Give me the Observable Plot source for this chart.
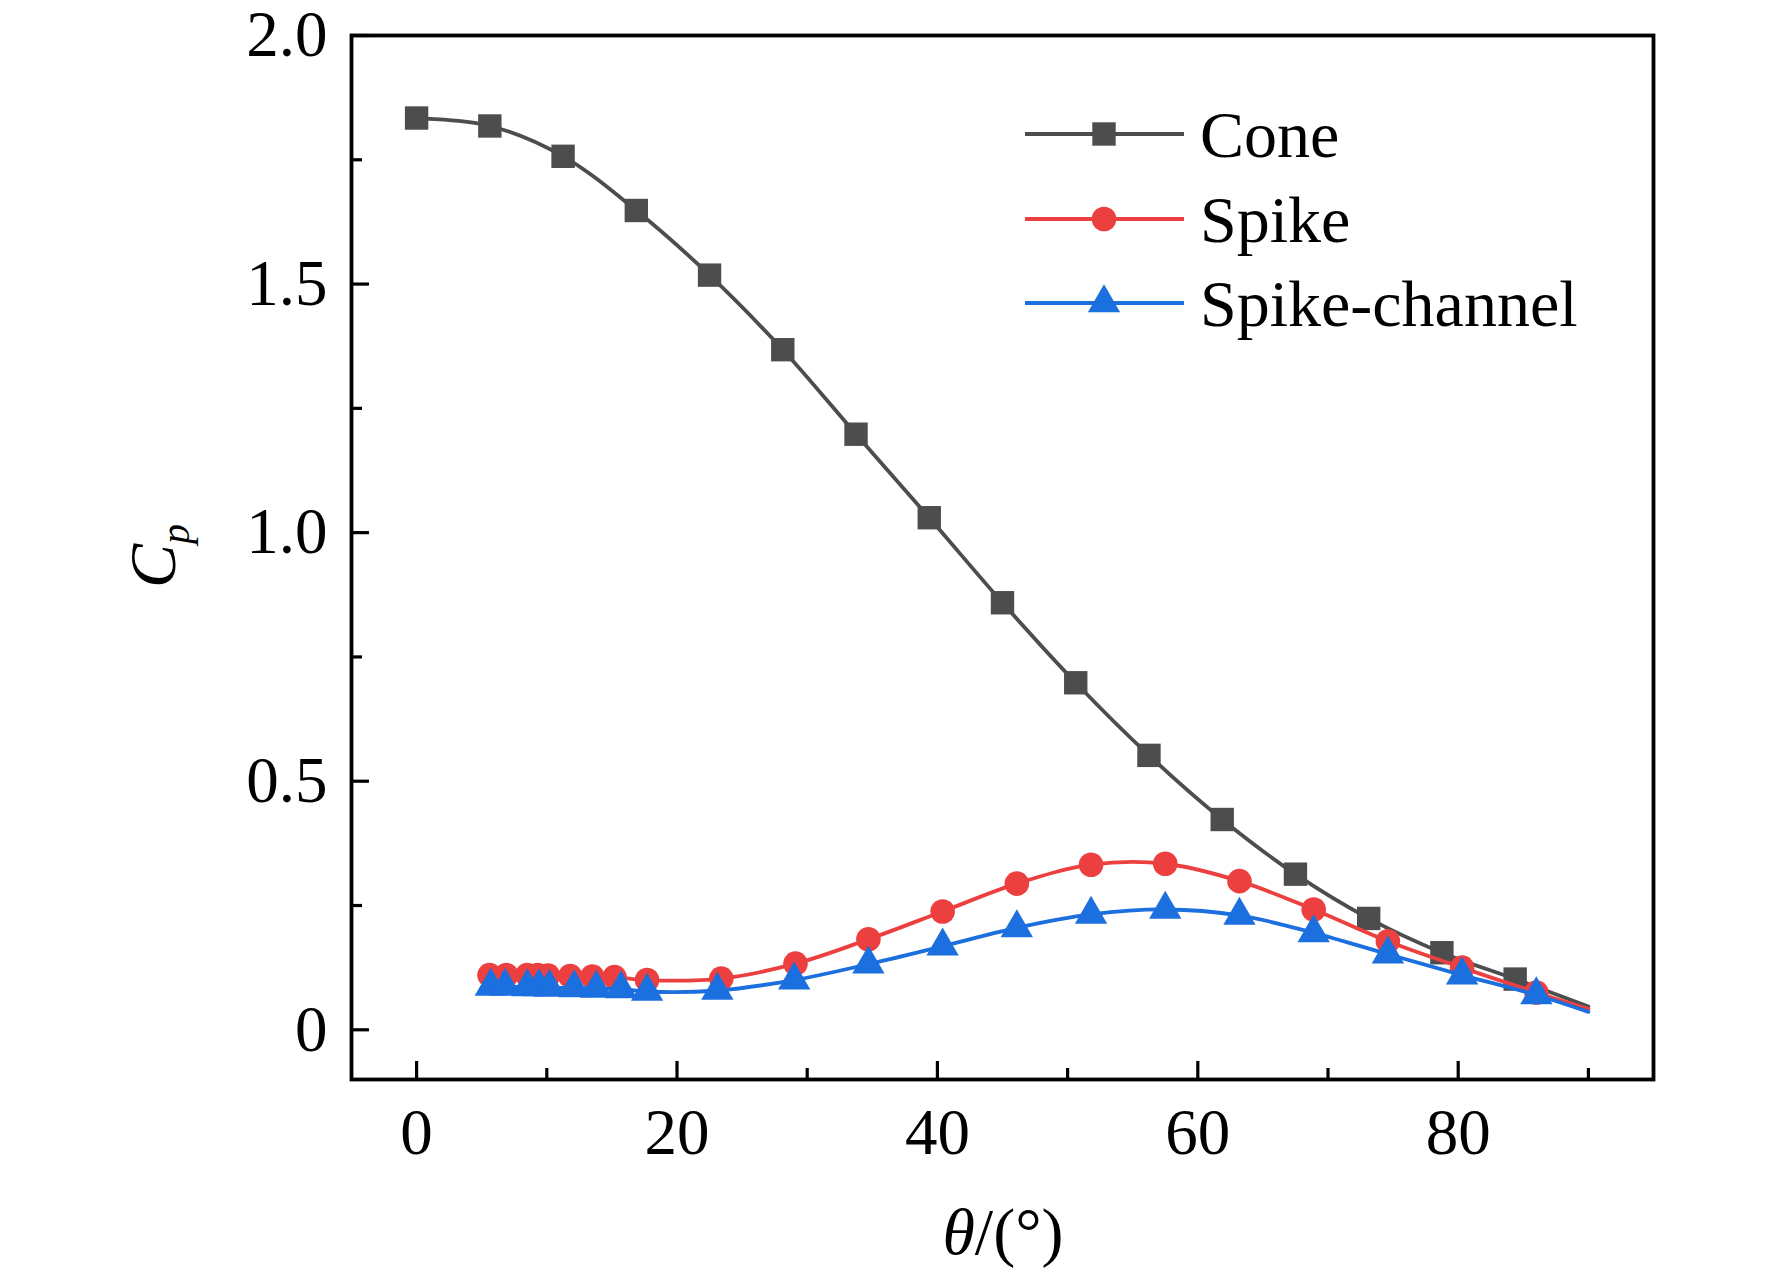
<!DOCTYPE html>
<html>
<head>
<meta charset="utf-8">
<script src="https://cdn.jsdelivr.net/npm/d3@7"></script>
<script src="https://cdn.jsdelivr.net/npm/@observablehq/plot@0.6"></script>
<style>
  html, body { margin: 0; padding: 0; background: #fff; }
  #chart svg { display: block; }
</style>
</head>
<body>
<div id="chart"></div>
<script>
// ---- Data ----
const seriesNames = ["Cone", "Spike", "Spike-channel"];

const coneTheta = [0, 5.625, 11.25, 16.875, 22.5, 28.125, 33.75, 39.375, 45, 50.625, 56.25, 61.875, 67.5, 73.125, 78.75, 84.375, 90];
const coneCp    = [1.834, 1.818, 1.757, 1.648, 1.518, 1.368, 1.198, 1.030, 0.859, 0.698, 0.552, 0.423, 0.313, 0.224, 0.155, 0.102, 0.047];

const spikeTheta = [5.6, 6.9, 8.5, 9.3, 10.1, 11.8, 13.5, 15.2, 17.7, 23.4, 29.1, 34.7, 40.4, 46.1, 51.8, 57.5, 63.2, 68.9, 74.6, 80.3, 86.0, 90];
const spikeCp    = [0.110, 0.110, 0.110, 0.110, 0.109, 0.108, 0.107, 0.106, 0.100, 0.103, 0.133, 0.182, 0.238, 0.294, 0.332, 0.334, 0.299, 0.242, 0.178, 0.125, 0.075, 0.042];

const channelTheta = [5.7, 6.8, 8.5, 9.4, 10.2, 12.1, 13.8, 15.7, 17.7, 23.1, 29.0, 34.7, 40.4, 46.1, 51.8, 57.5, 63.2, 68.9, 74.6, 80.3, 86.0, 90];
const channelCp    = [0.087, 0.087, 0.086, 0.086, 0.085, 0.084, 0.083, 0.082, 0.077, 0.079, 0.100, 0.132, 0.168, 0.205, 0.232, 0.242, 0.230, 0.195, 0.152, 0.110, 0.070, 0.036];

// tick values and labels
const xMajorTicks = [0, 20, 40, 60, 80];
const xMajorLabels = ["0", "20", "40", "60", "80"];
const xMinorTicks = [10, 30, 50, 70, 90];
const yMajorTicks = [0, 0.5, 1.0, 1.5, 2.0];
const yMajorLabels = ["0", "0.5", "1.0", "1.5", "2.0"];
const yMinorTicks = [0.25, 0.75, 1.25, 1.75];

// ---- Styles ----
const colors = {"Cone": "#4d4d4d", "Spike": "#ec4040", "Spike-channel": "#1b6fde"};
const symbols = {"Cone": "square", "Spike": "circle", "Spike-channel": "triangle"};
const radii = {"Cone": 13.2, "Spike": 12.3, "Spike-channel": 12};
const FONT = "'Liberation Serif', 'Times New Roman', Times, serif";
const FS = 65;

const raw = {
  "Cone": [coneTheta, coneCp],
  "Spike": [spikeTheta, spikeCp],
  "Spike-channel": [channelTheta, channelCp]
};
const rows = seriesNames.flatMap(name => {
  const [t, c] = raw[name];
  return t.map((theta, i) => ({name, theta, cp: c[i], marker: i < t.length - 1}));
});

const xLabelMap = new Map(xMajorTicks.map((d, i) => [d, xMajorLabels[i]]));
const yLabelMap = new Map(yMajorTicks.map((d, i) => [d, yMajorLabels[i]]));

const seriesMarks = seriesNames.flatMap(name => {
  const data = rows.filter(d => d.name === name);
  return [
    Plot.line(data, {x: "theta", y: "cp", stroke: colors[name], strokeWidth: 3.8, curve: "catmull-rom"}),
    Plot.dot(data.filter(d => d.marker), {x: "theta", y: "cp", fill: colors[name], symbol: symbols[name], r: radii[name], stroke: "none"})
  ];
});

const svg = Plot.plot({
  width: 1772,
  height: 1274,
  marginLeft: 351,
  marginRight: 119,
  marginTop: 35,
  marginBottom: 195,
  style: {fontFamily: FONT, background: "#fff", color: "#000", overflow: "visible"},
  x: {domain: [-5, 95], label: null},
  y: {domain: [-0.1, 2.0], label: null},
  marks: [
    ...seriesMarks,
    Plot.axisX(xMajorTicks, {tickSize: -18, tickPadding: 18 + 28, strokeWidth: 3.2, fontSize: FS, tickFormat: d => xLabelMap.get(d), label: null, fill: "#000"}),
    Plot.axisX(xMinorTicks, {tickSize: -11, strokeWidth: 3.2, tickFormat: () => "", label: null}),
    Plot.axisY(yMajorTicks, {tickSize: -18, tickPadding: 18 + 24, strokeWidth: 3.2, fontSize: FS, tickFormat: d => yLabelMap.get(d), label: null, fill: "#000"}),
    Plot.axisY(yMinorTicks, {tickSize: -11, strokeWidth: 3.2, tickFormat: () => "", label: null}),
    Plot.frame({stroke: "#000", strokeWidth: 3.8})
  ]
});

const root = d3.select(svg);

// Axis titles
const xt = root.append("text")
  .attr("x", 1003).attr("y", 1254)
  .attr("text-anchor", "middle")
  .attr("font-family", FONT).attr("font-size", 66).attr("fill", "#000");
xt.append("tspan").attr("font-style", "italic").text("θ");
xt.append("tspan").text("/(°)");

const yt = root.append("text")
  .attr("transform", "translate(175,556) rotate(-90)")
  .attr("text-anchor", "middle")
  .attr("font-family", FONT).attr("fill", "#000");
yt.append("tspan").attr("font-style", "italic").attr("font-size", 66).text("C");
yt.append("tspan").attr("font-style", "italic").attr("font-size", 40).attr("dy", 14).text("p");

// Legend
const symbolTypes = {"square": d3.symbolSquare, "circle": d3.symbolCircle, "triangle": d3.symbolTriangle};
const legendY = [134, 219, 303];
const lg = root.append("g");
seriesNames.forEach((name, i) => {
  const y = legendY[i];
  lg.append("line")
    .attr("x1", 1025).attr("x2", 1184).attr("y1", y).attr("y2", y)
    .attr("stroke", colors[name]).attr("stroke-width", 3.8);
  const r = radii[name];
  lg.append("path")
    .attr("transform", `translate(1104,${y})`)
    .attr("d", d3.symbol(symbolTypes[symbols[name]], r * r * Math.PI)())
    .attr("fill", colors[name]);
  lg.append("text")
    .attr("x", 1200).attr("y", y)
    .attr("text-anchor", "start")
    .attr("dominant-baseline", "central")
    .attr("font-family", FONT).attr("font-size", 66).attr("fill", "#000")
    .text(name);
});

document.getElementById("chart").appendChild(svg);
</script>
</body>
</html>
